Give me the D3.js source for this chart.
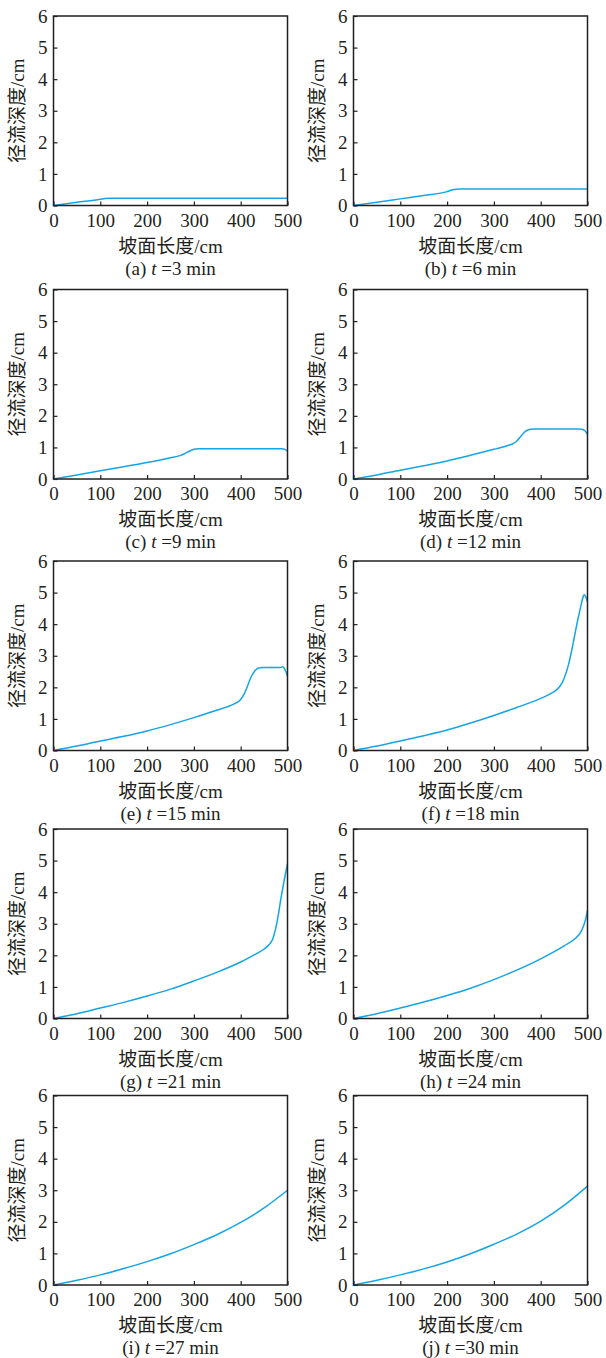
<!DOCTYPE html>
<html>
<head>
<meta charset="utf-8">
<script src="https://cdn.jsdelivr.net/npm/d3@7"></script>
<style>
  body { margin: 0; background: #fff; }
  svg { display: block; }
</style>
</head>
<body>
<svg id="chart" width="606" height="1358"></svg>
<script>
// panel captions
var labels = ["a", "b", "c", "d", "e", "f", "g", "h", "i", "j"];
var times = [3, 6, 9, 12, 15, 18, 21, 24, 27, 30];

var xTicks = [0, 100, 200, 300, 400, 500];
var yTicks = [0, 1, 2, 3, 4, 5, 6];

// runoff depth (cm) vs slope length (cm)
var depth_a = [[0, 0], [50, 0.1], [100, 0.195], [110, 0.22], [120, 0.23], [300, 0.23], [500, 0.23]];
var depth_b = [[0, 0], [50, 0.1], [100, 0.21], [150, 0.32], [200, 0.44], [208, 0.48], [215, 0.51], [225, 0.52], [350, 0.52], [500, 0.52]];
var depth_c = [[0, 0], [50, 0.13], [100, 0.26], [150, 0.39], [200, 0.52], [250, 0.67], [270, 0.74], [280, 0.8], [290, 0.88], [300, 0.94], [310, 0.96], [485, 0.96], [492, 0.95], [500, 0.89]];
var depth_d = [[0, 0], [50, 0.13], [100, 0.28], [150, 0.42], [200, 0.57], [250, 0.75], [300, 0.94], [330, 1.06], [342, 1.13], [350, 1.22], [358, 1.36], [366, 1.49], [374, 1.56], [384, 1.58], [484, 1.58], [490, 1.57], [495, 1.52], [500, 1.42]];
var depth_e = [[0, 0], [50, 0.14], [100, 0.3], [150, 0.45], [200, 0.62], [250, 0.82], [300, 1.04], [350, 1.28], [385, 1.47], [398, 1.58], [406, 1.75], [414, 2.02], [422, 2.32], [430, 2.52], [438, 2.61], [446, 2.63], [485, 2.63], [490, 2.65], [495, 2.55], [500, 2.35]];
var depth_f = [[0, 0], [50, 0.14], [100, 0.3], [150, 0.47], [200, 0.65], [250, 0.87], [300, 1.11], [350, 1.37], [400, 1.65], [425, 1.83], [438, 1.98], [446, 2.15], [454, 2.45], [460, 2.75], [466, 3.15], [472, 3.6], [478, 4.05], [484, 4.45], [489, 4.78], [493, 4.93], [496, 4.88], [500, 4.7]];
var depth_g = [[0, 0], [50, 0.15], [100, 0.33], [150, 0.51], [200, 0.71], [250, 0.93], [300, 1.19], [350, 1.47], [400, 1.79], [430, 2.02], [450, 2.2], [460, 2.33], [468, 2.5], [474, 2.8], [480, 3.25], [486, 3.8], [492, 4.3], [500, 4.9]];
var depth_h = [[0, 0], [50, 0.15], [100, 0.33], [150, 0.52], [200, 0.73], [250, 0.96], [300, 1.23], [350, 1.54], [400, 1.89], [450, 2.3], [475, 2.55], [485, 2.72], [492, 2.95], [497, 3.2], [500, 3.42]];
var depth_i = [[0, 0], [50, 0.15], [100, 0.32], [150, 0.52], [200, 0.74], [250, 0.99], [300, 1.28], [350, 1.6], [400, 1.98], [450, 2.44], [500, 3.0]];
var depth_j = [[0, 0], [50, 0.15], [100, 0.32], [150, 0.51], [200, 0.73], [250, 0.99], [300, 1.29], [350, 1.62], [400, 2.02], [450, 2.52], [500, 3.13]];

var series = [depth_a, depth_b, depth_c, depth_d, depth_e, depth_f, depth_g, depth_h, depth_i, depth_j];

var svg = d3.select("#chart");

var colLeft = [53.5, 353.5];
var rowTop = [16, 289.5, 561, 829, 1095.5];
var plotW = 234;
var plotH = 189.5;

var serif = "'Liberation Serif', 'Times New Roman', 'Noto Sans CJK SC', serif";
var ink = "#231f20";

var x = d3.scaleLinear().domain([0, 500]).range([0, plotW]);
var y = d3.scaleLinear().domain([0, 6]).range([plotH, 0]);

var line = d3.line()
    .x(d => x(d[0]))
    .y(d => y(d[1]))
    .curve(d3.curveMonotoneX);

series.forEach(function (data, i) {
    var g = svg.append("g")
        .attr("transform", "translate(" + colLeft[i % 2] + "," + rowTop[Math.floor(i / 2)] + ")");

    // x axis, inward ticks
    var gx = g.append("g")
        .attr("transform", "translate(0," + plotH + ")")
        .call(d3.axisBottom(x).tickValues(xTicks).tickFormat(d3.format("d"))
            .tickSizeInner(-4).tickSizeOuter(0).tickPadding(8));
    // y axis, inward ticks
    var gy = g.append("g")
        .call(d3.axisLeft(y).tickValues(yTicks).tickFormat(d3.format("d"))
            .tickSizeInner(-4).tickSizeOuter(0).tickPadding(6));

    [gx, gy].forEach(function (ax) {
        ax.select(".domain").remove();
        ax.selectAll("line").attr("stroke", ink).attr("stroke-width", 1.2);
        ax.selectAll("text")
            .style("font-family", serif)
            .style("font-size", "19px")
            .attr("fill", ink);
    });

    g.append("path")
        .datum(data)
        .attr("fill", "none")
        .attr("stroke", "#14a5e6")
        .attr("stroke-width", 1.5)
        .attr("d", line);

    g.append("rect")
        .attr("width", plotW)
        .attr("height", plotH)
        .attr("fill", "none")
        .attr("stroke", ink)
        .attr("stroke-width", 1.5);

    // axis titles
    g.append("text")
        .attr("x", plotW / 2)
        .attr("y", plotH + 47)
        .attr("text-anchor", "middle")
        .style("font-family", serif)
        .style("font-size", "19px")
        .attr("fill", ink)
        .text("坡面长度/cm");

    g.append("text")
        .attr("transform", "translate(-30," + (plotH / 2) + ") rotate(-90)")
        .attr("text-anchor", "middle")
        .style("font-family", serif)
        .style("font-size", "19px")
        .attr("fill", ink)
        .text("径流深度/cm");

    var cap = g.append("text")
        .attr("x", plotW / 2)
        .attr("y", plotH + 69)
        .attr("text-anchor", "middle")
        .style("font-family", serif)
        .style("font-size", "19px")
        .attr("fill", ink);
    cap.append("tspan").text("(" + labels[i] + ") ");
    cap.append("tspan").style("font-style", "italic").text("t");
    cap.append("tspan").text(" =" + times[i] + " min");
});
</script>
</body>
</html>
